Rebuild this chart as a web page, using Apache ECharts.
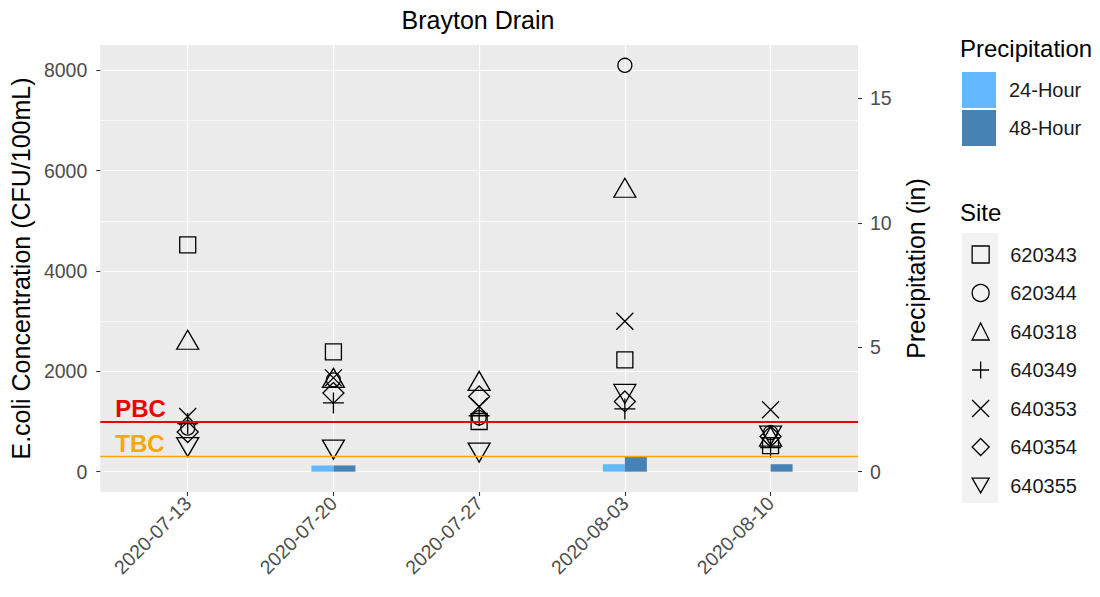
<!DOCTYPE html>
<html><head><meta charset="utf-8">
<script src="https://cdn.jsdelivr.net/npm/echarts@6/dist/echarts.min.js"></script>
<style>html,body{margin:0;padding:0;background:#fff}#c{width:1100px;height:597px}</style>
</head><body><div id="c"></div>
<script>
// ---------- data ----------
const dates = ['2020-07-13','2020-07-20','2020-07-27','2020-08-03','2020-08-10'];
const sites = ['620343','620344','640318','640349','640353','640354','640355'];
const s620343 = [4520, 2390, 1000, 2230, 520];
const s620344 = [870, 1830, 1075, 8100, 780];
const s640318 = [2570, 1810, 1750, 5600, 640];
const s640349 = [960, 1370, 1115, 1250, 480];
const s640353 = [1100, 1870, 1300, 3000, 1235];
const s640354 = [790, 1570, 1500, 1400, 700];
const s640355 = [550, 500, 440, 1610, 780];
const precip24 = [0, 0.25, 0, 0.3, 0];
const precip48 = [0, 0.25, 0, 0.6, 0.3];
const thresholdNames = ['PBC', 'TBC'];
const thresholdValues = [1000, 300];
const leftTicks = [0, 2000, 4000, 6000, 8000];
const leftMinor = [1000, 3000, 5000, 7000];
const rightTicks = [0, 5, 10, 15];
const siteValues = [s620343, s620344, s640318, s640349, s640353, s640354, s640355];

// ---------- styling ----------
const FONT = '"Liberation Sans", Arial, sans-serif';
const K = 496; // CFU per inch (secondary axis scale)
const yMin = -405, yMax = 8505;
const xMin = -0.6, xMax = 4.6;
const shapes = [
  {symbol:'rect', size:16, off:[0,0]},
  {symbol:'circle', size:14, off:[0,0]},
  {symbol:'triangle', size:[22,19], off:[0,-3]},
  {symbol:'path://M10,0L10,20M0,10L20,10', size:21, off:[0,0]},
  {symbol:'path://M0,0L20,20M20,0L0,20', size:17, off:[0,0]},
  {symbol:'diamond', size:21, off:[0,0]},
  {symbol:'path://M0,0L20,0L10,17.32Z', size:[22,19], off:[0,3]}
];
const thresholdColors = ['#F00000', '#FFA500'];
const thresholdWidths = [1.8, 1.4];
const idx = dates.map((d,i)=>i);
const TICK = {show:true, length:4, lineStyle:{color:'#333333', width:1.1}};

const series = [];
series.push({
  name:'24-Hour', type:'bar', xAxisIndex:0, yAxisIndex:1, barWidth:22, barGap:'0%',
  itemStyle:{color:'#63B8FF'}, data: precip24.map((v,i)=>[i,v]), z:1, silent:true
});
series.push({
  name:'48-Hour', type:'bar', xAxisIndex:0, yAxisIndex:1, barWidth:22, barGap:'0%',
  itemStyle:{color:'#4682B4'}, data: precip48.map((v,i)=>[i,v]), z:1, silent:true
});
// minor gridlines (skipping those hidden under a threshold line)
series.push({
  type:'scatter', yAxisIndex:0, data:[], silent:true, z:0,
  markLine:{silent:true, symbol:'none', z:0, animation:false,
    lineStyle:{color:'#ffffff', width:0.6, type:'solid'}, label:{show:false},
    data:leftMinor.filter(v=>thresholdValues.indexOf(v)<0).map(v=>({yAxis:v}))}
});
// thresholds
thresholdValues.forEach((v,i)=>{
  series.push({
    type:'scatter', yAxisIndex:0, data:[], silent:true, z:3,
    markLine:{silent:true, symbol:'none', animation:false,
      lineStyle:{color:thresholdColors[i], width:thresholdWidths[i], type:'solid', opacity:1},
      label:{show:true, position:'insideStartTop', formatter:thresholdNames[i],
        color:thresholdColors[i], fontSize:24, fontWeight:'bold', fontFamily:FONT, distance:[15,1]},
      data:[{yAxis:v}]}
  });
});
sites.forEach((s,k)=>{
  series.push({
    name:s, type:'scatter', yAxisIndex:0, symbol:shapes[k].symbol, symbolSize:shapes[k].size,
    symbolOffset:shapes[k].off, silent:true, z:4,
    itemStyle:{color:'transparent', borderColor:'#000', borderWidth:1.3, opacity:1},
    data: siteValues[k].map((v,i)=>[i,v])
  });
});

const chart = echarts.init(document.getElementById('c'), null, {renderer:'svg'});
chart.setOption({
  animation:false,
  textStyle:{fontFamily:FONT},
  grid:{left:100, right:242, top:45, bottom:105, show:true, backgroundColor:'#EBEBEB', borderWidth:0},
  xAxis:{
    type:'value', min:xMin, max:xMax,
    axisLine:{show:false, onZero:false},
    axisTick:Object.assign({customValues:idx}, TICK),
    axisLabel:{customValues:idx, formatter:v=>dates[Math.round(v)], rotate:45, fontSize:19.5, color:'#4D4D4D', margin:8, fontFamily:FONT},
    splitLine:{show:true, lineStyle:{color:'#ffffff', width:1.2}}
  },
  yAxis:[
    {type:'value', min:yMin, max:yMax, position:'left',
     axisLine:{show:false, onZero:false},
     axisTick:Object.assign({customValues:leftTicks}, TICK),
     axisLabel:{customValues:leftTicks, formatter:v=>String(v), fontSize:19.5, color:'#4D4D4D', margin:13, fontFamily:FONT},
     splitLine:{show:true, lineStyle:{color:'#ffffff', width:1.2}},
     name:'E.coli Concentration (CFU/100mL)', nameLocation:'middle', nameRotate:90, nameGap:61,
     nameTextStyle:{fontSize:25, color:'#000', fontFamily:FONT}
    },
    {type:'value', min:yMin/K, max:yMax/K, position:'right',
     axisLine:{show:false, onZero:false},
     axisTick:Object.assign({customValues:rightTicks}, TICK),
     axisLabel:{customValues:rightTicks, formatter:v=>String(v), fontSize:19.5, color:'#4D4D4D', margin:12, fontFamily:FONT},
     splitLine:{show:false},
     name:'Precipitation (in)', nameLocation:'middle', nameRotate:90, nameGap:45,
     nameTextStyle:{fontSize:25, color:'#000', fontFamily:FONT}
    }
  ],
  legend:[
    {data:['24-Hour','48-Hour'], orient:'vertical', left:962, top:72, itemWidth:34, itemHeight:36, itemGap:2,
     icon:'rect', selectedMode:false, padding:0,
     textStyle:{fontSize:20, color:'#1A1A1A', fontFamily:FONT, padding:[0,0,0,8]}},
    {data:sites, orient:'vertical', left:971.5, top:244.5, itemWidth:17, itemHeight:17, itemGap:18.5,
     selectedMode:false, padding:0,
     itemStyle:{color:'transparent', borderColor:'#000', borderWidth:1.3},
     textStyle:{fontSize:20, color:'#1A1A1A', fontFamily:FONT, padding:[0,0,0,16]}}
  ],
  graphic:[
    {type:'rect', shape:{x:962, y:233, width:36, height:270}, style:{fill:'#F2F2F2'}, z:-1, silent:true},
    {type:'text', x:478, y:20, style:{text:'Brayton Drain', font:'25px '+FONT, fill:'#000', textAlign:'center', textVerticalAlign:'middle'}},
    {type:'text', x:960, y:48, style:{text:'Precipitation', font:'24px '+FONT, fill:'#000', textAlign:'left', textVerticalAlign:'middle'}},
    {type:'text', x:960, y:212, style:{text:'Site', font:'24px '+FONT, fill:'#000', textAlign:'left', textVerticalAlign:'middle'}}
  ],
  series: series
});
</script></body></html>
